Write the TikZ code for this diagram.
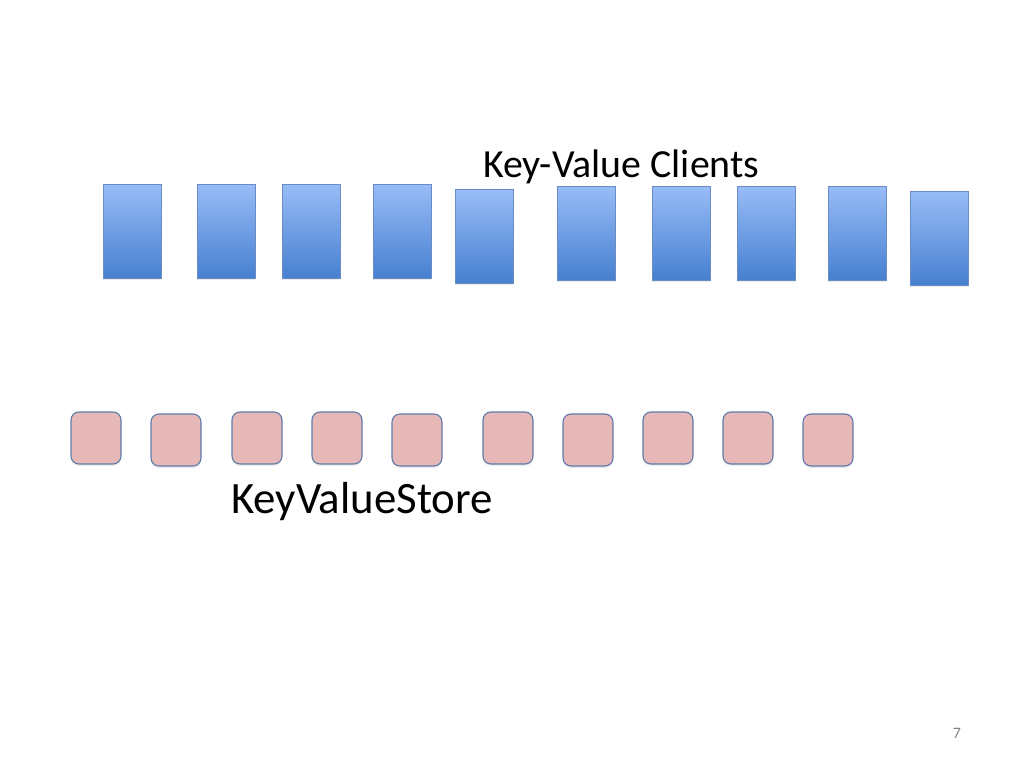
\documentclass[tikz,border=0pt]{standalone}
\usepackage{fontspec}
\setmainfont{Carlito}
\usetikzlibrary{shadows}

\definecolor{clienttop}{HTML}{98BCF7}
\definecolor{clientbot}{HTML}{4780D0}
\definecolor{clientline}{HTML}{6A8CC4}
\definecolor{storefill}{HTML}{E6B9B8}
\definecolor{storeline}{HTML}{5E7BAA}

\begin{document}
\begin{tikzpicture}[x=1bp,y=-1bp,
  client/.style={rectangle,draw=clientline,line width=0.8bp,top color=clienttop,bottom color=clientbot,
    minimum width=58bp,minimum height=94bp,inner sep=0pt,drop shadow={opacity=0.15,shadow xshift=0bp,shadow yshift=-2bp}},
  store/.style={rectangle,rounded corners=8bp,draw=storeline,line width=1.1bp,fill=storefill,
    minimum width=50bp,minimum height=52bp,inner sep=0pt,drop shadow={opacity=0.15,shadow xshift=0bp,shadow yshift=-2bp}},
  title/.style={font=\fontsize{40}{45}\selectfont,inner sep=0pt}]

  \useasboundingbox (0,0) rectangle (1024,768);

  % clients
  \foreach \x/\y [count=\i] in {132/231,226/231,311/231,402/231,484/236,586/233,681/233,766/233,857/233,939/238}
    \node[client] (c\i) at (\x,\y) {};
  \node[title,anchor=base west] (clients) at (483,177) {Key-Value Clients};

  % stores
  \foreach \x/\y [count=\i] in {96/438,176/440,257/438,337/438,417/440,508/438,588/440,668/438,748/438,828/440}
    \node[store] (s\i) at (\x,\y) {};
  \node[title,anchor=base west,font=\fontsize{45}{50}\selectfont] (kvs) at (231,513) {KeyValueStore};

  \node[anchor=base,font=\fontsize{16}{18}\selectfont,text=gray] (page) at (957,738) {7};
\end{tikzpicture}
\end{document}
